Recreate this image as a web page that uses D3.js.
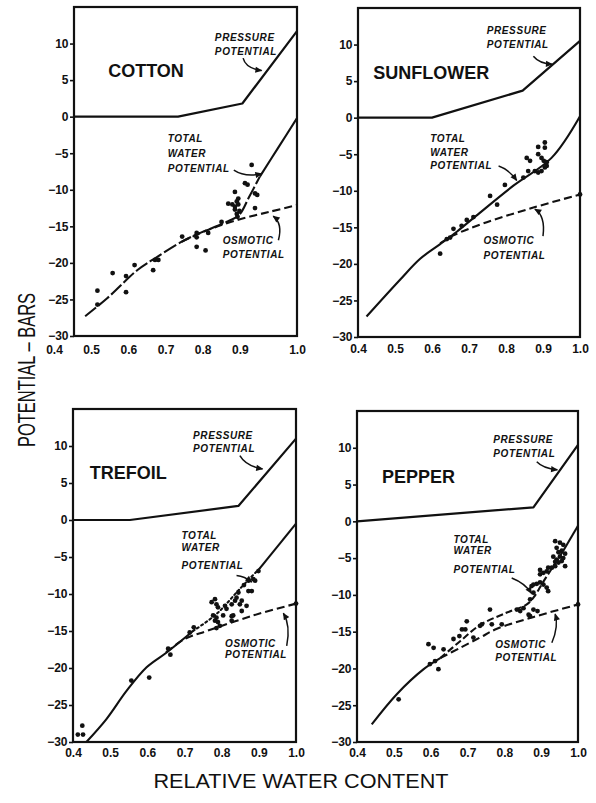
<!DOCTYPE html>
<html><head><meta charset="utf-8">
<script src="https://cdn.jsdelivr.net/npm/d3@7"></script>
<style>
body{margin:0;background:#fff;}
svg{display:block;}
text{font-family:"Liberation Sans",Arial,Helvetica,sans-serif;fill:#111;}
</style></head><body>
<svg id="chart" width="596" height="803"></svg>
<script>
// ---------- DATA ----------
const xTicks = [0.4, 0.5, 0.6, 0.7, 0.8, 0.9, 1.0];
const yTicks = [-30, -25, -20, -15, -10, -5, 0, 5, 10];
const panelNames = ["COTTON", "SUNFLOWER", "TREFOIL", "PEPPER"];
const annotationPressure = ["PRESSURE", "POTENTIAL"];
const annotationTotal = ["TOTAL", "WATER", "POTENTIAL"];
const annotationOsmotic = ["OSMOTIC", "POTENTIAL"];
const xTitle = "RELATIVE WATER CONTENT";
const yTitle = "POTENTIAL – BARS";

const cottonPressure = [[0.4,0],[0.68,0],[0.853,1.8],[1.0,11.7]];
const cottonTotal = [[0.43,-27.3],[0.49,-24.8],[0.57,-21.0],[0.62,-19.3],[0.69,-17.1],[0.73,-16.1],[0.815,-14.3],[0.845,-13.4],[0.87,-11.1],[0.9,-8.2],[0.95,-4.2],[1.0,-0.2]];
const cottonOsmotic = [[0.69,-17.1],[0.76,-15.5],[0.842,-14.1],[0.927,-13.0],[1.0,-12.1]];
const cottonPoints = [[0.463,-23.8],[0.463,-25.7],[0.504,-21.4],[0.54,-21.8],[0.54,-24.0],[0.563,-20.3],[0.613,-21.0],[0.618,-19.6],[0.627,-19.6],[0.691,-16.4],[0.73,-15.9],[0.73,-16.5],[0.73,-17.8],[0.754,-18.3],[0.761,-15.9],[0.797,-14.4],[0.815,-11.9],[0.826,-12.0],[0.833,-10.3],[0.842,-11.2],[0.838,-11.6],[0.833,-12.3],[0.833,-12.7],[0.838,-13.3],[0.84,-13.7],[0.845,-12.9],[0.842,-12.0],[0.86,-9.1],[0.867,-9.3],[0.878,-6.6],[0.887,-10.5],[0.893,-10.7],[0.887,-12.5]];

const sunflowerPressure = [[0.4,0],[0.6,0],[0.845,3.7],[1.0,10.5]];
const sunflowerTotal = [[0.423,-27.2],[0.513,-22.2],[0.568,-19.3],[0.622,-17.3],[0.667,-15.6],[0.72,-13.4],[0.82,-9.3],[0.923,-5.5],[1.0,0.2]];
const sunflowerOsmotic = [[0.622,-17.2],[0.658,-16.1],[0.748,-14.3],[0.874,-12.3],[1.0,-10.5]];
const sunflowerPoints = [[0.622,-18.6],[0.64,-16.6],[0.649,-16.4],[0.658,-15.2],[0.68,-14.8],[0.694,-14.0],[0.712,-13.6],[0.757,-10.7],[0.776,-11.9],[0.797,-9.2],[0.847,-8.2],[0.86,-7.3],[0.856,-5.5],[0.865,-5.9],[0.878,-7.3],[0.887,-7.5],[0.896,-7.3],[0.905,-6.8],[0.887,-5.0],[0.896,-5.5],[0.902,-5.9],[0.91,-6.1],[0.887,-4.0],[0.905,-3.4],[0.905,-4.1],[0.91,-6.6],[1.0,-10.5]];

const trefoilPressure = [[0.4,0],[0.553,0],[0.845,1.9],[1.0,11.0]];
const trefoilTotal = [[0.436,-30.0],[0.49,-26.9],[0.544,-23.1],[0.598,-19.9],[0.652,-17.9],[0.723,-15.0],[0.786,-12.7],[0.849,-9.3],[0.903,-6.5],[1.0,-0.5]];
const trefoilOsmotic = [[0.65,-17.9],[0.70,-16.1],[0.76,-15.0],[0.885,-12.9],[1.0,-11.3]];
const trefoilPoints = [[0.413,-29.0],[0.427,-29.0],[0.425,-27.8],[0.557,-21.7],[0.605,-21.3],[0.656,-17.4],[0.662,-18.2],[0.714,-15.2],[0.725,-14.5],[0.773,-11.1],[0.782,-10.7],[0.786,-11.4],[0.79,-11.8],[0.777,-12.9],[0.786,-13.2],[0.782,-13.6],[0.79,-13.8],[0.795,-14.3],[0.786,-14.6],[0.804,-12.9],[0.809,-11.6],[0.813,-12.0],[0.827,-11.4],[0.827,-13.0],[0.831,-12.9],[0.827,-13.6],[0.836,-10.9],[0.84,-10.5],[0.845,-9.8],[0.849,-11.4],[0.854,-10.9],[0.854,-12.3],[0.867,-11.6],[0.86,-8.8],[0.872,-8.2],[0.872,-9.6],[0.881,-9.6],[0.885,-8.0],[0.89,-8.2],[0.899,-6.9],[1.0,-11.3]];

const pepperPressure = [[0.4,0],[0.879,1.9],[1.0,10.4]];
const pepperTotal = [[0.44,-27.6],[0.508,-23.5],[0.581,-20.1],[0.626,-18.6],[0.68,-16.3],[0.734,-14.1],[0.807,-12.4],[0.861,-11.3],[0.88,-10.3],[0.906,-8.2],[0.96,-4.0],[1.0,-0.6]];
const pepperOsmotic = [[0.626,-18.6],[0.68,-17.2],[0.734,-15.8],[0.78,-14.6],[0.88,-13.0],[1.0,-11.3]];
const pepperPoints = [[0.513,-24.2],[0.594,-16.7],[0.608,-17.2],[0.621,-20.1],[0.598,-19.4],[0.612,-19.0],[0.635,-17.4],[0.662,-16.0],[0.678,-15.6],[0.685,-14.7],[0.694,-14.7],[0.698,-13.6],[0.716,-15.8],[0.734,-14.2],[0.739,-14.0],[0.761,-12.0],[0.766,-14.0],[0.793,-14.0],[0.834,-12.0],[0.843,-12.2],[0.852,-11.8],[0.87,-12.9],[0.866,-12.7],[0.879,-12.0],[0.89,-12.2],[0.87,-10.6],[0.874,-8.8],[0.879,-9.7],[0.879,-8.6],[0.888,-8.5],[0.897,-8.3],[0.906,-8.6],[0.915,-9.0],[0.919,-9.5],[0.897,-7.2],[0.897,-6.6],[0.906,-7.0],[0.915,-6.8],[0.919,-6.3],[0.929,-6.3],[0.938,-6.1],[0.965,-6.1],[0.938,-2.7],[0.951,-2.9],[0.96,-3.2],[0.942,-3.6],[0.947,-4.2],[0.956,-4.0],[0.951,-4.8],[0.96,-5.0],[0.942,-5.2],[0.947,-5.6],[0.956,-5.4],[0.965,-4.4],[0.933,-4.8],[0.938,-5.5],[1.0,-11.3]];

// ---------- LAYOUT / STYLE ----------
const panels = [
  {name:panelNames[0], pressure:cottonPressure, total:cottonTotal, osmotic:cottonOsmotic, points:cottonPoints,
   box:{x0:74,x1:297,y0:7,y1:336}, xLabelShift:-20, xPad:9,
   totalSegs:[[0,9,"14,3"],[9,11,null]],
   title:[0.492,5.44], pText:[0.779,[10.4,8.5]], pArrow:[[0.855,8.0],[0.862,6.6],[0.905,6.3]],
   tText:[0.652,[-3.45,-5.5,-7.5]], tArrow:[[0.83,-7.3],[0.86,-8.3],[0.905,-7.8]],
   oText:[0.8,[-17.4,-19.3]], oArrow:[[0.95,-16.9],[0.962,-14.6],[0.936,-13.6]]},
  {name:panelNames[1], pressure:sunflowerPressure, total:sunflowerTotal, osmotic:sunflowerOsmotic, points:sunflowerPoints,
   box:{x0:358,x1:580,y0:8,y1:337}, xLabelShift:0, xPad:7,
   totalSegs:[[0,8,null]],
   title:[0.441,5.24], pText:[0.748,[11.4,9.55]], pArrow:[[0.874,8.4],[0.89,7.4],[0.925,7.3]],
   tText:[0.595,[-3.27,-5.2,-7.0]], tArrow:[[0.78,-6.6],[0.806,-7.0],[0.829,-8.6]],
   oText:[0.739,[-17.3,-19.3]], oArrow:[[0.9,-16.2],[0.907,-13.4],[0.878,-12.5]]},
  {name:panelNames[2], pressure:trefoilPressure, total:trefoilTotal, osmotic:trefoilOsmotic, points:trefoilPoints,
   box:{x0:73,x1:296,y0:409,y1:742}, xLabelShift:0, xPad:6,
   totalSegs:[[0,5,null],[5,8,"2,3"],[8,9,null]],
   title:[0.445,5.55], pText:[0.723,[10.96,9.15]], pArrow:[[0.849,8.7],[0.865,7.3],[0.91,6.9]],
   tText:[0.692,[-2.57,-4.15,-6.63]], tArrow:[[0.84,-7.5],[0.862,-7.6],[0.881,-8.4]],
   oText:[0.809,[-17.1,-18.6]], oArrow:[[0.975,-17.0],[0.986,-14.3],[0.966,-12.6]]},
  {name:panelNames[3], pressure:pepperPressure, total:pepperTotal, osmotic:pepperOsmotic, points:pepperPoints,
   box:{x0:357,x1:578,y0:411,y1:742}, xLabelShift:0, xPad:6,
   totalSegs:[[0,3,null],[3,10,"7,3"],[10,11,null]],
   title:[0.468,5.19], pText:[0.77,[10.6,8.8]], pArrow:[[0.888,8.1],[0.905,7.2],[0.944,7.0]],
   tText:[0.662,[-2.94,-4.5,-7.0]], tArrow:[[0.82,-7.7],[0.856,-8.4],[0.874,-9.8]],
   oText:[0.775,[-17.2,-19.0]], oArrow:[[0.929,-16.5],[0.948,-14.3],[0.938,-12.6]]}
];

const INK = "#111";
const FONT = '"Liberation Sans",Arial,Helvetica,sans-serif';
const svg = d3.select("#chart");
svg.append("rect").attr("width",596).attr("height",803).attr("fill","#fff");

svg.append("defs").append("marker")
  .attr("id","ah").attr("viewBox","0 0 10 10").attr("refX",9).attr("refY",5)
  .attr("markerWidth",8).attr("markerHeight",7).attr("markerUnits","userSpaceOnUse")
  .attr("orient","auto")
  .append("path").attr("d","M0,0.5 L10,5 L0,9.5 z").attr("fill",INK);

panels.forEach(p => {
  const b = p.box;
  const x = d3.scaleLinear().domain([0.4,1.0]).range([b.x0,b.x1]);
  const y = d3.scaleLinear().domain([-30,15]).range([b.y1,b.y0]);
  const g = svg.append("g");

  // axes
  const ya = g.append("g").attr("transform",`translate(${b.x0},0)`)
    .call(d3.axisLeft(y).tickValues(yTicks).tickSize(4).tickPadding(1.5));
  ya.select(".domain").remove();
  ya.selectAll(".tick line").attr("stroke",INK).attr("stroke-width",1.6);
  ya.selectAll(".tick text").attr("font-size",12).attr("font-weight","bold").attr("font-family",FONT).attr("fill",INK);

  const xa = g.append("g").attr("transform",`translate(0,${b.y1})`)
    .call(d3.axisBottom(x).tickValues(xTicks).tickSize(0).tickPadding(p.xPad).tickFormat(d3.format(".1f")));
  xa.select(".domain").remove();
  xa.selectAll(".tick text").attr("font-size",12).attr("font-weight","bold").attr("font-family",FONT).attr("fill",INK)
    .attr("dx", d => d < 0.95 ? p.xLabelShift : 0);

  // frame
  g.append("rect").attr("x",b.x0).attr("y",b.y0).attr("width",b.x1-b.x0).attr("height",b.y1-b.y0)
    .attr("fill","none").attr("stroke",INK).attr("stroke-width",2.2);

  const lineLin = d3.line().x(d=>x(d[0])).y(d=>y(d[1]));
  const lineSm = d3.line().x(d=>x(d[0])).y(d=>y(d[1])).curve(d3.curveCatmullRom.alpha(0.5));

  // pressure
  g.append("path").attr("d",lineLin(p.pressure)).attr("fill","none").attr("stroke",INK).attr("stroke-width",2.2).attr("stroke-linejoin","round");
  // total
  p.totalSegs.forEach(([i0,i1,dash]) => {
    g.append("path").attr("d",lineSm(p.total.slice(i0,i1+1))).attr("fill","none").attr("stroke",INK)
      .attr("stroke-width",2.1).attr("stroke-dasharray",dash).attr("stroke-linecap", dash==="2,3" ? "round" : "butt");
  });
  // osmotic
  g.append("path").attr("d",lineSm(p.osmotic)).attr("fill","none").attr("stroke",INK)
    .attr("stroke-width",2.1).attr("stroke-dasharray","8,4");
  // points
  g.selectAll("circle.pt").data(p.points).join("circle").attr("class","pt")
    .attr("cx",d=>x(d[0])).attr("cy",d=>y(d[1])).attr("r",2.4).attr("fill",INK);

  // title
  g.append("text").attr("x",x(p.title[0])).attr("y",y(p.title[1])).attr("font-size",18).attr("font-weight","bold")
    .attr("font-family",FONT).text(p.name);

  // annotations
  const annot = (pos, lines) => {
    lines.forEach((s,i) => {
      g.append("text").attr("x",x(pos[0])).attr("y",y(pos[1][i])).attr("font-size",10).attr("font-weight","bold")
        .attr("font-style","italic").attr("letter-spacing","0.6px").attr("font-family",FONT).text(s);
    });
  };
  const arrow = (pts) => {
    const pa = d3.path();
    pa.moveTo(x(pts[0][0]),y(pts[0][1]));
    pa.quadraticCurveTo(x(pts[1][0]),y(pts[1][1]),x(pts[2][0]),y(pts[2][1]));
    g.append("path").attr("d",pa.toString()).attr("fill","none").attr("stroke",INK).attr("stroke-width",1.5).attr("marker-end","url(#ah)");
  };
  annot(p.pText, annotationPressure); arrow(p.pArrow);
  annot(p.tText, annotationTotal); arrow(p.tArrow);
  annot(p.oText, annotationOsmotic); arrow(p.oArrow);
});

// axis titles
svg.append("text").attr("x",301).attr("y",788).attr("text-anchor","middle").attr("font-size",21)
  .attr("font-family",FONT).attr("textLength",295).attr("lengthAdjust","spacingAndGlyphs").text(xTitle);
svg.append("text").attr("transform","translate(35,370) rotate(-90)").attr("text-anchor","middle").attr("font-size",23)
  .attr("font-family",FONT).attr("textLength",154).attr("lengthAdjust","spacingAndGlyphs").text(yTitle);
</script>
</body></html>
